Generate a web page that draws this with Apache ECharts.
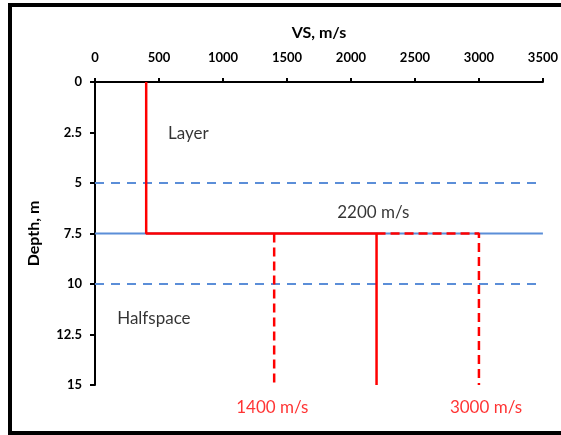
<!DOCTYPE html>
<html>
<head>
<meta charset="utf-8">
<script src="https://cdn.jsdelivr.net/npm/echarts@6/dist/echarts.min.js"></script>
<style>
html,body{margin:0;padding:0;background:#fff;}
#c{width:561px;height:435px;}
</style>
</head>
<body>
<div id="c"></div>
<script>
// ---- data ----
const vsTicks = [0, 500, 1000, 1500, 2000, 2500, 3000, 3500];
const depthTicks = [0, 2.5, 5, 7.5, 10, 12.5, 15];
const layerVs = 400;          // m/s
const layerThickness = 7.5;   // m
const halfspaceVs = 2200;     // m/s
const altHalfspaceVs = [1400, 3000]; // m/s (dashed alternatives)
const maxDepth = 15;
const refDepthsDashed = [5, 10];
const refDepthSolid = 7.5;
const labelTexts = ['Layer', '2200 m/s', 'Halfspace', '1400 m/s', '3000 m/s'];
const labelVs = [730, 2175, 460, 1385, 3055];
const labelDepths = [2.55, 6.45, 11.7, 16.1, 16.1];
const labelColors = ['#000', '#000', '#000', '#ff0000', '#ff0000'];

const vsMin = vsTicks[0], vsMax = vsTicks[vsTicks.length - 1];
const font = 'Lato, "Open Sans", sans-serif';
const blue = '#5b8ed8';
const red = '#ff0000';

const series = [];
refDepthsDashed.forEach(d => series.push({
  type: 'line', data: [[vsMin, d], [vsMax, d]], symbol: 'none', silent: true,
  lineStyle: {color: blue, width: 2, type: [9, 7]}
}));
series.push({
  type: 'line', data: [[vsMin, refDepthSolid], [vsMax, refDepthSolid]], symbol: 'none', silent: true,
  lineStyle: {color: blue, width: 2}
});
series.push({
  type: 'line', data: [[altHalfspaceVs[0], layerThickness], [altHalfspaceVs[0], maxDepth]], symbol: 'none',
  lineStyle: {color: red, width: 2.5, type: [9, 5]}
});
series.push({
  type: 'line', data: [[halfspaceVs, layerThickness], [altHalfspaceVs[1], layerThickness], [altHalfspaceVs[1], maxDepth]], symbol: 'none',
  lineStyle: {color: red, width: 2.5, type: [9, 5]}
});
series.push({
  type: 'line', data: [[layerVs, 0], [layerVs, layerThickness], [halfspaceVs, layerThickness], [halfspaceVs, maxDepth]], symbol: 'none',
  lineStyle: {color: red, width: 2.5}
});
series.push({
  type: 'scatter', symbolSize: 0, silent: true, clip: false,
  data: labelTexts.map((t, i) => ({value: [labelVs[i], labelDepths[i]], label: {show: true, formatter: t, color: labelColors[i]}})),
  label: {show: true, position: 'inside', fontFamily: font, fontSize: 17}
});

const chart = echarts.init(document.getElementById('c'), null, {renderer: 'canvas'});
chart.setOption({
  animation: false,
  backgroundColor: '#fff',
  grid: {left: 95, right: 16, top: 82, bottom: 50},
  xAxis: {
    type: 'value', position: 'top', min: vsMin, max: vsMax, interval: 500,
    name: 'VS, m/s', nameLocation: 'middle', nameGap: 41,
    nameTextStyle: {fontFamily: font, fontWeight: 'bold', fontSize: 16, color: '#000'},
    axisLine: {lineStyle: {color: '#000', width: 2}},
    axisTick: {show: true, length: 4, lineStyle: {color: '#000', width: 2}},
    axisLabel: {fontFamily: font, fontWeight: 'bold', fontSize: 13, color: '#000', margin: 18, formatter: v => String(v)},
    splitLine: {show: false}
  },
  yAxis: {
    type: 'value', inverse: true, min: depthTicks[0], max: maxDepth, interval: 2.5,
    name: 'Depth, m', nameLocation: 'middle', nameGap: 53, nameRotate: 90,
    nameTextStyle: {fontFamily: font, fontWeight: 'bold', fontSize: 16, color: '#000'},
    axisLine: {lineStyle: {color: '#000', width: 2}},
    axisTick: {show: true, length: 5, lineStyle: {color: '#000', width: 2}},
    axisLabel: {fontFamily: font, fontWeight: 'bold', fontSize: 13, color: '#000', margin: 13, formatter: v => String(v)},
    splitLine: {show: false}
  },
  graphic: [{
    type: 'rect', shape: {x: 10, y: 5, width: 620, height: 428},
    style: {fill: 'none', stroke: '#000', lineWidth: 4}, silent: true
  }],
  series: series
});
</script>
</body>
</html>
